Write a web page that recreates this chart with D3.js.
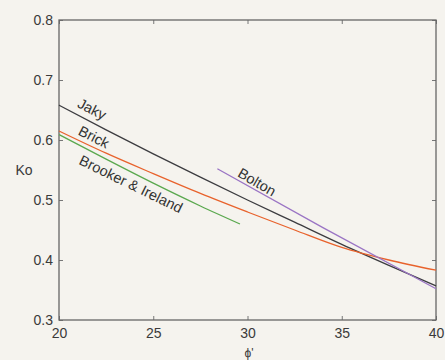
<!DOCTYPE html>
<html><head><meta charset="utf-8">
<script src="https://cdn.jsdelivr.net/npm/d3@7"></script>
<style>
html,body{margin:0;padding:0;background:#f5f3ee;}
svg{display:block;font-family:"Liberation Sans",Arial,sans-serif;}
</style></head>
<body><svg id="c" width="445" height="360"></svg>
<script>
// friction angle phi' (degrees) and K0 values
const jakyPhi = [20, 22.5, 25, 27.5, 30, 32.5, 35, 37.5, 40];
const jakyK0  = [0.658, 0.617, 0.577, 0.538, 0.500, 0.463, 0.426, 0.391, 0.357];
const brickPhi = [20, 22.5, 25, 27.5, 30, 32.5, 35, 37.5, 40];
const brickK0  = [0.615, 0.578, 0.544, 0.511, 0.480, 0.450, 0.421, 0.400, 0.383];
const brookerPhi = [20, 22.5, 25, 27.5, 29.6];
const brookerK0  = [0.609, 0.568, 0.528, 0.490, 0.460];
const boltonPhi = [28.4, 34, 40];
const boltonK0  = [0.552, 0.454, 0.352];
const xTicks = [20, 25, 30, 35, 40];
const yTicks = [0.3, 0.4, 0.5, 0.6, 0.7, 0.8];

const series = [
  {name:"Jaky", phi:jakyPhi, k:jakyK0, color:"#3c3c40"},
  {name:"Brooker & Ireland", phi:brookerPhi, k:brookerK0, color:"#5aa84e"},
  {name:"Brick", phi:brickPhi, k:brickK0, color:"#e8622c"},
  {name:"Bolton", phi:boltonPhi, k:boltonK0, color:"#9a74c4"}
];

const L=59, R=436, T=20, B=320;
const svg = d3.select("#c");
const x = d3.scaleLinear().domain([20,40]).range([L,R]);
const y = d3.scaleLinear().domain([0.3,0.8]).range([B,T]);

const tickColor="#777", textColor="#3a3a3a";
function style(g){
  g.select(".domain").remove();
  g.selectAll(".tick line").attr("stroke",tickColor);
  g.selectAll(".tick text").attr("fill",textColor).style("font-size","14px");
}
svg.append("g").attr("transform",`translate(${L},0)`)
  .call(d3.axisLeft(y).tickValues(yTicks).tickFormat(d3.format(".1f")).tickSizeInner(-4).tickSizeOuter(0).tickPadding(6))
  .call(style);
svg.append("g").attr("transform",`translate(${R},0)`)
  .call(d3.axisRight(y).tickValues(yTicks).tickFormat("").tickSizeInner(-4).tickSizeOuter(0))
  .call(style);
svg.append("g").attr("transform",`translate(0,${B})`)
  .call(d3.axisBottom(x).tickValues(xTicks).tickFormat(d3.format("d")).tickSizeInner(-4).tickSizeOuter(0).tickPadding(8))
  .call(style);
svg.append("g").attr("transform",`translate(0,${T})`)
  .call(d3.axisTop(x).tickValues(xTicks).tickFormat("").tickSizeInner(-4).tickSizeOuter(0))
  .call(style);

svg.append("rect").attr("x",L).attr("y",T).attr("width",R-L).attr("height",B-T)
  .attr("fill","none").attr("stroke","#666").attr("stroke-width",1.3);

const line = d3.line().x(d=>x(d[0])).y(d=>y(d[1])).curve(d3.curveMonotoneX);
series.forEach(s=>{
  svg.append("path").datum(s.phi.map((p,i)=>[p,s.k[i]]))
    .attr("d",line).attr("fill","none").attr("stroke",s.color).attr("stroke-width",1.3);
});

// line labels
const labels = [
  {t:"Jaky", cx:92, cy:109, a:27},
  {t:"Brick", cx:94, cy:137, a:27},
  {t:"Brooker & Ireland", cx:131, cy:184, a:26},
  {t:"Bolton", cx:257, cy:182, a:30}
];
labels.forEach(l=>{
  svg.append("text").attr("transform",`translate(${l.cx},${l.cy}) rotate(${l.a})`)
    .attr("text-anchor","middle").attr("dy","0.35em").attr("fill","#333")
    .style("font-size","14.5px").text(l.t);
});

svg.append("text").attr("x",24).attr("y",170).attr("text-anchor","middle").attr("dy","0.35em")
  .attr("fill",textColor).style("font-size","14px").text("Ko");
svg.append("text").attr("x",249).attr("y",353).attr("text-anchor","middle").attr("dy","0.35em")
  .attr("fill",textColor).style("font-size","12px").text("ϕ'");
</script></body></html>
